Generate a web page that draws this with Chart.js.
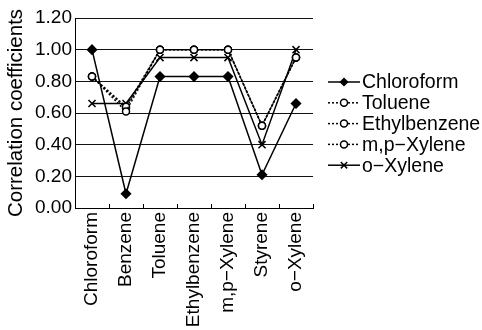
<!DOCTYPE html>
<html>
<head>
<meta charset="utf-8">
<script src="https://cdn.jsdelivr.net/npm/chart.js@4/dist/chart.umd.min.js"></script>
<style>
  html, body { margin: 0; padding: 0; background: #fff; }
  #wrap { width: 482px; height: 330px; position: relative; }
</style>
</head>
<body>
<div id="wrap"><canvas id="chart"></canvas></div>
<script>
const categories = ['Chloroform', 'Benzene', 'Toluene', 'Ethylbenzene', 'm,p\u2212Xylene', 'Styrene', 'o\u2212Xylene'];
const chloroform = [1.00, 0.09, 0.83, 0.83, 0.83, 0.21, 0.66];
const toluene = [0.83, 0.61, 1.00, 1.00, 1.00, 0.52, 0.95];
const ethylbenzene = [0.83, 0.64, 1.00, 1.00, 1.00, 0.52, 0.95];
const mpXylene = [0.83, 0.63, 1.00, 1.00, 1.00, 0.52, 0.95];
const oXylene = [0.66, 0.66, 0.95, 0.95, 0.95, 0.40, 1.00];
const yTicks = [0, 0.2, 0.4, 0.6, 0.8, 1.0, 1.2];

const FONT = "'Liberation Sans', Arial, sans-serif";

function series(label, data, style, dash) {
    return {
        label: label,
        data: data,
        borderColor: '#000',
        borderWidth: 1.5,
        borderDash: dash,
        pointStyle: style,
        pointRadius: style === 'rectRot' ? 4.5 : (style === 'crossRot' ? 5 : 3.5),
        pointBackgroundColor: style === 'rectRot' ? '#000' : '#fff',
        pointBorderColor: '#000',
        pointBorderWidth: 1.5,
        tension: 0
    };
}

// legend drawn by hand: line sample + marker + text
const legendPlugin = {
    id: 'sideLegend',
    afterDraw(chart) {
        const ctx = chart.ctx;
        ctx.save();
        chart.data.datasets.forEach((ds, i) => {
            const y = 82 + i * 20.8;
            ctx.strokeStyle = '#000';
            ctx.lineWidth = 1.5;
            ctx.setLineDash(ds.borderDash || []);
            ctx.beginPath();
            ctx.moveTo(328, y);
            ctx.lineTo(360, y);
            ctx.stroke();
            ctx.setLineDash([]);
            ctx.fillStyle = ds.pointBackgroundColor;
            ctx.strokeStyle = '#000';
            Chart.helpers.drawPoint(ctx, {
                pointStyle: ds.pointStyle,
                radius: ds.pointStyle === 'crossRot' ? 4.5 : 3.5,
                borderWidth: 1.5,
                rotation: 0
            }, 344, y);
            ctx.fillStyle = '#000';
            ctx.font = '19.5px ' + FONT;
            ctx.textBaseline = 'middle';
            ctx.textAlign = 'left';
            ctx.fillText(ds.label, 362, y + 1);
        });
        ctx.restore();
    }
};

// small ticks between categories pointing up from the x axis
const innerTicks = {
    id: 'innerTicks',
    afterDatasetsDraw(chart) {
        const x = chart.scales.x;
        const ctx = chart.ctx;
        const bottom = chart.chartArea.bottom;
        ctx.save();
        ctx.strokeStyle = '#000';
        ctx.lineWidth = 1;
        for (let i = 0; i <= categories.length; i++) {
            const px = Math.round(x.getPixelForValue(i - 0.5)) + 0.5;
            ctx.beginPath();
            ctx.moveTo(px, bottom);
            ctx.lineTo(px, bottom - 4);
            ctx.stroke();
        }
        ctx.restore();
    }
};

new Chart(document.getElementById('chart'), {
    type: 'line',
    data: {
        labels: categories,
        datasets: [
            series('Chloroform', chloroform, 'rectRot', []),
            series('Toluene', toluene, 'circle', [2, 2]),
            series('Ethylbenzene', ethylbenzene, 'circle', [2, 2]),
            series('m,p\u2212Xylene', mpXylene, 'circle', [2, 2]),
            series('o\u2212Xylene', oXylene, 'crossRot', [])
        ]
    },
    options: {
        responsive: true,
        maintainAspectRatio: false,
        animation: false,
        layout: { padding: { top: 18, right: 169, left: 0, bottom: 0 } },
        plugins: {
            legend: { display: false },
            tooltip: { enabled: false }
        },
        scales: {
            x: {
                offset: true,
                grid: { display: true, drawOnChartArea: false, drawTicks: false, offset: true },
                border: { display: true, color: '#000', width: 1 },
                ticks: {
                    autoSkip: false,
                    minRotation: 90,
                    maxRotation: 90,
                    padding: 4,
                    color: '#000',
                    font: { family: FONT, size: 19 }
                },
                afterFit: s => { s.height = 122; }
            },
            y: {
                min: 0,
                max: 1.2,
                afterBuildTicks: s => { s.ticks = yTicks.map(v => ({ value: v })); },
                grid: { color: '#111', lineWidth: 1, drawTicks: false },
                border: { display: true, color: '#000', width: 1 },
                ticks: {
                    padding: 3,
                    color: '#000',
                    font: { family: FONT, size: 19 },
                    callback: v => v.toFixed(2)
                },
                title: {
                    display: true,
                    text: 'Correlation coefficients',
                    color: '#000',
                    font: { family: FONT, size: 20.5 },
                    padding: { top: 4, bottom: 0 }
                },
                afterFit: s => { s.width = 75; s.paddingTop = 0; s.paddingBottom = 0; }
            }
        }
    },
    plugins: [innerTicks, legendPlugin]
});
</script>
</body>
</html>
